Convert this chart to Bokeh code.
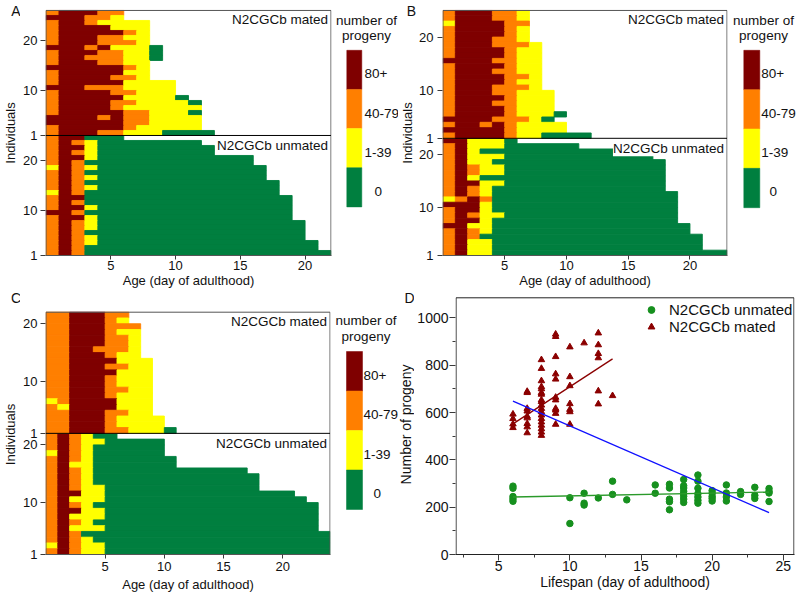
import math
from bokeh.plotting import figure
from bokeh.layouts import row, column
from bokeh.models import (ColumnDataSource, Label, Range1d, FixedTicker,
                          SingleIntervalTicker, Legend, LegendItem)
from bokeh.core.properties import value
from bokeh.embed import file_html
from bokeh.resources import INLINE

FONT = "Liberation Sans"
TXT = "#111111"
BOX = "#555555"

# progeny classes (legend order, top to bottom)
classes = ["80+", "40-79", "1-39", "0"]
class_codes = ["R", "O", "Y", "G"]
class_colors = ["#7f0000", "#ff7f00", "#ffff00", "#007f3f"]

# Heat maps: one string per individual, highest individual first; one char per day
A_mated = ["ORRROO", "RRROOY", "ORROYYYY", "ORRRRYYY", "ORRRRROY", "ORRROOYY",
           "ORRROOOY", "RRRORYYYG", "ORRROOYYG", "ORROOOYYG", "ORRROOYY", "RRRRRROY",
           "ORRRRRYY", "ORRRROOY", "ORRRRRYYYY", "RRROOOYYYY", "ORRRROOYYY",
           "ORRRRRYYYYG", "ORRRROOYYYYG", "ORRRROYYYYYY", "ORRRRROOYYYG",
           "RRRROROOYYYY", "RRRRRROOYYYY", "ORRRRROYYYYY", "ORRROOYYYGGGG"]
# unmated: early reproductive days, then 0 progeny until death (lifespan in days)
A_unmated_early = ["ORR", "OROY", "ORRY", "OROY", "ORRY", "ORO", "YROY", "ORO", "OROY",
                   "ORO", "OROY", "YRO", "ORR", "ORO", "ORRY", "RRO", "ORRY", "OROY",
                   "OROY", "ORO", "OROY", "OROY", "ORO", "ORO"]
A_unmated_life = [6, 12, 13, 13, 16, 16, 17, 17, 17, 18, 18, 18, 19, 19, 19, 19, 19,
                  20, 20, 20, 20, 21, 21, 22]

B_mated = ["ORRROOY", "ORRROOY", "YRRRROO", "ORRRROY", "ORRRROY", "ORRROOY",
           "ORRROOOY", "ORRRROYY", "ORRRROYY", "RRRROOYY", "ORRRROYY", "ORRROOYY",
           "ORRRROOY", "ORRRROYY", "ORRROOOY", "ORRROOYYY", "ORRRROYYY", "ORRROOYYY",
           "ORRRROYYY", "ORRRROYYYG", "RRRROOOYG", "ORROROYYYY", "RRRRROYYYY",
           "ORRRROYYGGGG"]
B_unmated_early = ["RRYYY", "ORYYY", "ORY", "ORYYY", "ORYY", "OROYY", "OROYY", "ORY",
                   "ORRYY", "OROY", "OROY", "YORO", "RRRY", "ORRY", "OROYY", "ORRY",
                   "RRYY", "OROY", "ORO", "ORYY", "ORYY", "ORYY"]
B_unmated_life = [6, 11, 17, 17, 18, 18, 18, 18, 18, 18, 19, 19, 19, 19, 19, 19, 20, 20,
                  21, 21, 21, 23]

C_mated = ["OORRROO", "OORRROY", "OORRROOO", "OORRROYY", "OORRROOY", "OORRROOY",
           "OORROOOY", "OORRROYY", "OORRRRYYY", "OORRROOYY", "OORRRRYYY", "OORRROYYY",
           "OORRROYYY", "OORRROOYY", "OORRROYYY", "YORRRRYYY", "OYRRRRYYY",
           "OORRROOYY", "OORRROYYYY", "OORRROYYYY", "OORRROOYYYG"]
C_unmated_early = ["OROY", "OROYY", "OROY", "YROY", "OROY", "ORYY", "OROY", "OROY",
                   "OROY", "OROYY", "ORRYY", "ORYYY", "OROY", "ORRYY", "ORYYY", "OROY",
                   "ORYYY", "ORO", "OROY", "YROYY", "OROYY"]
C_unmated_life = [6, 10, 10, 10, 11, 11, 17, 18, 18, 18, 21, 22, 23, 23, 23, 23, 23,
                  24, 24, 24, 24]

heat_xticks = [5, 10, 15, 20]
heat_yticks = [1, 10, 20]

# Panel D data
unmated_lifespan = [6, 6, 6, 6, 6, 10, 10, 11, 11, 11, 12, 13, 13, 14, 16, 16,
                    17, 17, 17, 17, 17, 18, 18, 18, 18, 18, 18, 18, 18,
                    19, 19, 19, 19, 19, 19, 19, 20, 20, 20, 20, 20,
                    21, 21, 21, 21, 22, 22, 23, 23, 23, 24, 24, 24, 24]
unmated_progeny = [289, 280, 245, 235, 225, 240, 131, 259, 217, 209, 239, 310, 254, 231,
                   294, 259, 297, 281, 234, 223, 189, 317, 291, 281, 267, 257, 246, 234,
                   220, 336, 310, 280, 257, 243, 229, 217, 270, 259, 246, 237, 226,
                   294, 260, 243, 226, 266, 254, 284, 250, 237, 279, 267, 260, 224]
mated_lifespan = [6, 6, 6, 6,
                  7, 7, 7, 7, 7, 7, 7, 7, 7,
                  8, 8, 8, 8, 8, 8, 8, 8, 8, 8, 8, 8, 8, 8, 8, 8, 8, 8, 8,
                  9, 9, 9, 9, 9, 9, 9, 9, 9, 9, 9,
                  10, 10, 10, 10, 10, 10, 10,
                  11, 12, 12, 12, 12, 12, 12, 13]
mated_progeny = [593, 574, 551, 536,
                 689, 684, 617, 606, 584, 577, 553, 539, 514,
                 823, 786, 734, 709, 700, 684, 677, 653, 646, 631, 617, 603, 589, 574,
                 560, 546, 531, 517, 503,
                 931, 921, 836, 763, 741, 664, 653, 617, 610, 596, 550,
                 877, 751, 713, 637, 613, 603, 550,
                 894, 936, 886, 849, 831, 691, 636, 671]
fit_unmated_x = [6, 24]
fit_unmated_y = [243, 264]
fit_mated_x = [6, 13]
fit_mated_y = [552, 827]
fit_all_x = [6, 24]
fit_all_y = [648, 177]
d_yticks = [0, 200, 400, 600, 800, 1000]
d_yminor = [100, 300, 500, 700, 900]

code_color = dict(zip(class_codes, class_colors))

TOP_H, BOT_H = 290, 309          # row heights
TOP_BB, BOT_BB = 34, 45          # common bottom borders in each row


def heat_source(rows, offset):
    n = len(rows)
    L, R, B, T, C = [], [], [], [], []
    for i, s in enumerate(rows):
        k = n - i
        d = 0
        while d < len(s):
            e = d
            while e < len(s) and s[e] == s[d]:
                e += 1
            L.append(d)
            R.append(e)
            B.append(k + offset)
            T.append(k + offset + 1)
            C.append(code_color[s[d]])
            d = e
    return ColumnDataSource(dict(left=L, right=R, bottom=B, top=T, color=C))


def style_axis(ax, fs, tick_out, standoff, label_standoff, minor_out=0):
    ax.axis_line_color = BOX
    ax.major_tick_line_color = "#3a3a3a"
    ax.minor_tick_line_color = "#3a3a3a"
    ax.major_tick_in = 0
    ax.major_tick_out = tick_out
    ax.minor_tick_in = 0
    ax.minor_tick_out = minor_out
    ax.major_label_text_font = FONT
    ax.major_label_text_font_size = fs
    ax.major_label_text_color = TXT
    ax.axis_label_text_font = FONT
    ax.axis_label_text_font_size = fs
    ax.axis_label_text_font_style = "normal"
    ax.axis_label_text_color = TXT
    ax.major_label_standoff = standoff
    ax.axis_label_standoff = label_standoff


def blank_fig(width, height, bb, yflip=True):
    fh = height - bb
    p = figure(width=width, height=height, x_range=Range1d(0, width),
               y_range=Range1d(fh, 0) if yflip else Range1d(0, fh),
               output_backend="svg", toolbar_location=None,
               x_axis_location=None, y_axis_location=None,
               min_border_left=0, min_border_right=0, min_border_top=0,
               min_border_bottom=bb)
    p.grid.visible = False
    p.outline_line_color = None
    return p, fh


def strip(width, height, bb, letter, lx, ly, label, tx, ty, fs):
    p, fh = blank_fig(width, height, bb, yflip=False)
    p.text(x=[lx], y=[fh - ly], text=[letter], text_font=value(FONT),
           text_font_size="14px", text_align="center", text_baseline="middle",
           text_color=TXT)
    p.text(x=[tx], y=[fh - ty], text=[label], angle=math.pi / 2,
           text_font=value(FONT), text_font_size=fs, text_align="center",
           text_baseline="middle", text_color=TXT)
    return p


def heat_panel(mated, u_early, u_life, xmax, width, height, bl, br, bb, top_px,
               y_standoff, x_standoff, x_label_standoff):
    unmated = [e + "G" * (life - len(e)) for e, life in zip(u_early, u_life)]
    nu, nm = len(unmated), len(mated)
    top = nu + nm + 1
    fh = height - bb
    yend = top + top_px * (top - 1) / (fh - top_px)
    eps = 0.04
    p = figure(width=width, height=height, x_range=Range1d(-eps, xmax + eps),
               y_range=Range1d(1, yend), output_backend="svg", toolbar_location=None,
               min_border_left=bl, min_border_right=br, min_border_top=0,
               min_border_bottom=bb)
    p.grid.visible = False
    p.outline_line_color = None
    for src in (heat_source(unmated, 0), heat_source(mated, nu)):
        p.quad(left="left", right="right", bottom="bottom", top="top", source=src,
               fill_color="color", line_color="color", line_width=0.9)
    p.quad(left=[0], right=[xmax], bottom=[1], top=[top], fill_color=None,
           line_color=BOX, line_width=1)
    b = nu + 1
    p.segment(x0=[0], x1=[xmax], y0=[b], y1=[b], line_color="black", line_width=1)
    p.xaxis.ticker = FixedTicker(ticks=heat_xticks)
    yt = heat_yticks + [b + t - 1 for t in heat_yticks]
    p.yaxis.ticker = FixedTicker(ticks=yt)
    p.yaxis.major_label_overrides = {b + t - 1: str(t) for t in heat_yticks}
    p.xaxis.axis_label = "Age (day of adulthood)"
    style_axis(p.xaxis[0], "13px", 4, x_standoff, x_label_standoff)
    style_axis(p.yaxis[0], "13px", 5, y_standoff, 0)
    p.yaxis.axis_line_color = None
    p.add_layout(Label(x=xmax, y=top, x_offset=-3, y_offset=-2, text="N2CGCb mated",
                       text_align="right", text_baseline="top", text_font=FONT,
                       text_font_size="13.5px", text_color=TXT))
    p.add_layout(Label(x=xmax, y=b, x_offset=-3, y_offset=-3, text="N2CGCb unmated",
                       text_align="right", text_baseline="top", text_font=FONT,
                       text_font_size="13.5px", text_color=TXT,
                       background_fill_color="white"))
    return p


def legend_panel(width, height, bb, bx, bw, by, bh, tx, ty, lx, zx):
    p, fh = blank_fig(width, height, bb, yflip=True)
    idx = list(range(len(classes)))
    src = ColumnDataSource(dict(left=[bx] * len(idx), right=[bx + bw] * len(idx),
                                top=[by + i * bh for i in idx],
                                bottom=[by + (i + 1) * bh for i in idx],
                                color=class_colors,
                                lx=[lx if c != "0" else zx for c in classes],
                                ly=[by + (i + 0.5) * bh + 4 for i in idx],
                                label=classes))
    p.quad(left="left", right="right", top="top", bottom="bottom", source=src,
           fill_color="color", line_color="color", line_width=0.5)
    p.text(x="lx", y="ly", text="label", source=src, text_font=value(FONT),
           text_font_size="13.5px", text_baseline="middle", text_align="left",
           text_color=TXT)
    p.text(x=[tx, tx], y=[ty, ty + 15.5], text=["number of", "progeny"],
           text_font=value(FONT), text_font_size="13.5px", text_baseline="middle",
           text_align="center", text_color=TXT)
    return p


# ---- top row: A and B
sA = strip(20, TOP_H, TOP_BB, "A", 15.5, 11, "Individuals", 10, 133, "13px")
pA = heat_panel(A_mated, A_unmated_early, A_unmated_life, 22, 314, TOP_H,
                23, 3, TOP_BB, 10, 3, 1, 0)
legA = legend_panel(64, TOP_H, TOP_BB, 12.3, 15, 50, 39.3, 32, 20, 30, 40)
sB = strip(18, TOP_H, TOP_BB, "B", 13, 11, "Individuals", 9, 133, "13px")
pB = heat_panel(B_mated, B_unmated_early, B_unmated_life, 23, 314, TOP_H,
                24, 3, TOP_BB, 10, 4, 1, 0)
legB = legend_panel(69, TOP_H, TOP_BB, 13.3, 16, 50, 39.5, 33, 20, 30.7, 39)

# ---- bottom row: C and D
sC = strip(20, BOT_H, BOT_BB, "C", 15.5, 7, "Individuals", 10, 144, "13px")
pC = heat_panel(C_mated, C_unmated_early, C_unmated_life, 24, 314, BOT_H,
                23, 4, BOT_BB, 21.7, 3, 3, 3)
legC = legend_panel(64, BOT_H, BOT_BB, 12, 16, 61, 39.5, 31.5, 30, 29, 39)
sD = strip(16, BOT_H, BOT_BB, "D", 11, 7, "Number of progeny", 7, 134, "14px")

fhD = BOT_H - BOT_BB
ytop = 1085
yendD = ytop + 7.3 * ytop / (fhD - 7.3)
pD = figure(width=385, height=BOT_H, x_range=Range1d(1.96, 25.79),
            y_range=Range1d(0, yendD), output_backend="svg", toolbar_location=None,
            min_border_left=38, min_border_right=5, min_border_top=0,
            min_border_bottom=BOT_BB)
pD.grid.visible = False
pD.outline_line_color = None
pD.quad(left=[2], right=[25.75], bottom=[0], top=[ytop], fill_color=None,
        line_color="#222222", line_width=1)
GREEN = "#16901e"
DRED = "#8b0000"
r_m = pD.scatter(mated_lifespan, mated_progeny, marker="triangle", size=6.5,
                 fill_color=DRED, line_color=DRED)
r_u = pD.scatter(unmated_lifespan, unmated_progeny, marker="circle", size=6.5,
                 fill_color=GREEN, line_color=GREEN)
pD.line(fit_unmated_x, fit_unmated_y, line_color="#2a9a2a", line_width=1.3)
pD.line(fit_mated_x, fit_mated_y, line_color=DRED, line_width=1.3)
pD.line(fit_all_x, fit_all_y, line_color="#1010ff", line_width=1.3)
pD.xaxis.ticker = SingleIntervalTicker(interval=5, num_minor_ticks=2)
pD.yaxis.ticker = FixedTicker(ticks=d_yticks, minor_ticks=d_yminor)
pD.xaxis.axis_label = "Lifespan (day of adulthood)"
style_axis(pD.xaxis[0], "14px", 6, 0, 0, minor_out=3)
style_axis(pD.yaxis[0], "14px", 6, 1, 0, minor_out=3)
pD.xaxis.axis_line_color = "#222222"
pD.yaxis.axis_line_color = None
leg = Legend(items=[LegendItem(label="N2CGCb unmated", renderers=[r_u]),
                    LegendItem(label="N2CGCb mated", renderers=[r_m])],
             location=(186, 219), border_line_color=None, background_fill_alpha=0,
             label_text_font=FONT, label_text_font_size="15px", label_text_color=TXT,
             glyph_width=20, glyph_height=17, label_height=17, spacing=0, padding=2,
             margin=0, label_standoff=8)
pD.add_layout(leg)

layout = column(row(sA, pA, legA, sB, pB, legB), row(sC, pC, legC, sD, pD))

with open("out.html", "w") as f:
    f.write(file_html(layout, INLINE))
